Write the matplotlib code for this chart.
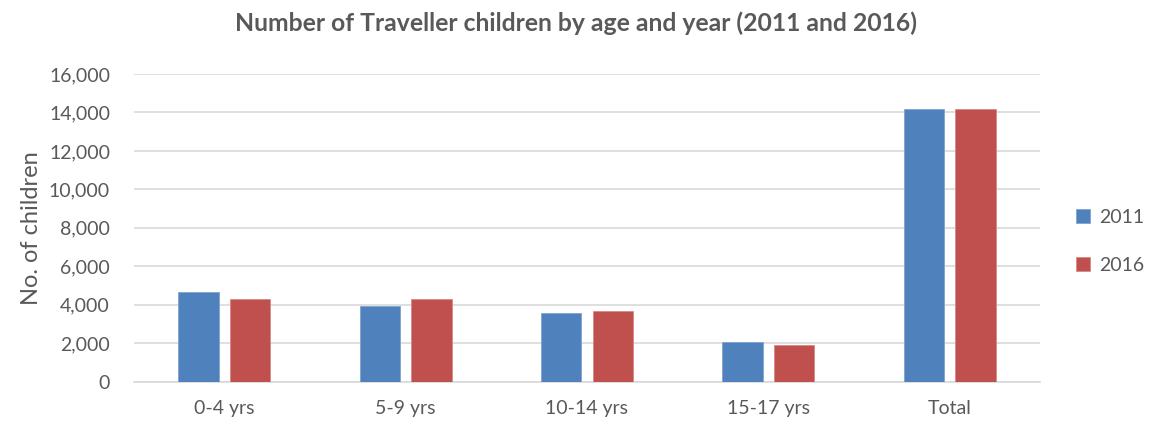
import matplotlib.pyplot as plt
import numpy as np
from matplotlib.ticker import FuncFormatter

plt.rcParams['font.family'] = ['Lato', 'DejaVu Sans']

age_groups = ['0-4 yrs', '5-9 yrs', '10-14 yrs', '15-17 yrs', 'Total']
children_2011 = [4680, 3920, 3550, 2050, 14200]
children_2016 = [4310, 4310, 3670, 1890, 14200]
years = ['2011', '2016']

blue = '#4F81BD'
red = '#C0504D'
text_col = '#595959'
grid_col = '#D9D9D9'

fig = plt.figure(figsize=(11.58, 4.23), dpi=100)
ax = fig.add_axes([0.1154, 0.0977, 0.783, 0.7273])

x = np.arange(len(age_groups))
w = 0.223
off = 0.285 / 2
ax.bar(x - off, children_2011, w, color=blue, edgecolor='#7FA3D1', linewidth=0.6, label=years[0], zorder=3)
ax.bar(x + off, children_2016, w, color=red, edgecolor='#D98886', linewidth=0.6, label=years[1], zorder=3)

ax.set_xlim(-0.5, len(age_groups) - 0.5)
ax.set_ylim(0, 16000)
ax.set_yticks(np.arange(0, 16001, 2000))
ax.yaxis.set_major_formatter(FuncFormatter(lambda v, p: f'{int(v):,}'))
ax.set_xticks(x)
ax.set_xticklabels(age_groups)

ax.grid(axis='y', color=grid_col, linewidth=1.2, zorder=0)
for s in ['top', 'right', 'left']:
    ax.spines[s].set_visible(False)
ax.spines['bottom'].set_color(grid_col)
ax.spines['bottom'].set_linewidth(1.2)
ax.tick_params(axis='both', length=0, labelsize=14, labelcolor=text_col)
ax.tick_params(axis='y', pad=17)
ax.tick_params(axis='x', pad=13)

ax.set_ylabel('No. of children', fontsize=17, color=text_col, labelpad=5)
fig.text(0.497, 0.945, 'Number of Traveller children by age and year (2011 and 2016)',
         ha='center', va='center', fontsize=17.8, fontweight='bold', color=text_col)

leg = ax.legend(loc='center left', bbox_to_anchor=(1.02, 0.456), frameon=False,
                fontsize=14, labelcolor=text_col, handlelength=0.7, handleheight=0.7,
                labelspacing=1.6, handletextpad=0.5)

fig.savefig('out.png', dpi=100)
